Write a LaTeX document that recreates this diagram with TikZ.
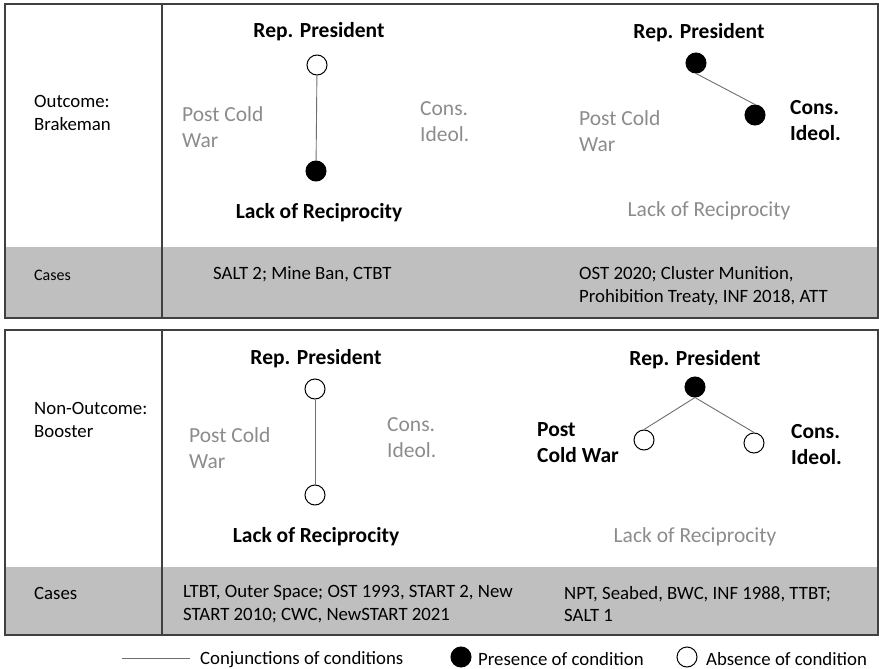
\documentclass[tikz,border=0pt]{standalone}
\usepackage{fontspec}
\setmainfont{Carlito}
\definecolor{bandgray}{HTML}{BFBFBF}
\definecolor{txtgray}{HTML}{8C8C8C}
\definecolor{edge}{HTML}{404040}
\definecolor{linkgray}{HTML}{6E6E6E}
\tikzset{
  lab/.style={inner sep=0pt, yshift=-2pt, font=\fontsize{21.5}{26}\selectfont\bfseries, align=left},
  glab/.style={inner sep=0pt, yshift=-2pt, font=\fontsize{21.5}{26}\selectfont, text=txtgray, align=left},
  body/.style={inner sep=0pt, yshift=-2pt, font=\fontsize{18.8}{22.6}\selectfont, align=left},
  small/.style={inner sep=0pt, yshift=-1pt, font=\fontsize{16}{19}\selectfont, align=left},
  pres/.style={circle, fill=black, draw=black, line width=1pt, minimum size=20pt, inner sep=0pt},
  abs/.style={circle, fill=white, draw=black, line width=1pt, minimum size=20pt, inner sep=0pt},
  link/.style={draw=linkgray, line width=0.9pt},
  frame/.style={draw=edge, line width=1.6pt}
}
\begin{document}
\begin{tikzpicture}[x=1pt,y=-1pt]
\useasboundingbox (0,0) rectangle (879,669);
% ---------- top panel ----------
\fill[bandgray] (5,247) rectangle (878,318);
\draw[frame] (5,4) rectangle (878,318);
\draw[frame] (162,4) -- (162,318);
\node[body, anchor=west] (oc) at (34,111) {Outcome:\\Brakeman};
\node[small, anchor=west] (c1) at (34,274) {Cases};
% left diagram
\node[lab] (rp1) at (319,30) {Rep. President};
\node[abs] (a1) at (317,65) {};
\node[pres] (b1) at (316,171) {};
\draw[link] (a1) -- (b1);
\node[glab, anchor=west] (pc1) at (182,125) {Post Cold\\War};
\node[glab, anchor=west] (ci1) at (420,120) {Cons.\\Ideol.};
\node[lab] (lr1) at (319,211) {Lack of Reciprocity};
\node[body, anchor=west] (cs1) at (213,272) {SALT 2; Mine Ban, CTBT};
% right diagram
\node[lab] (rp2) at (699,31) {Rep. President};
\node[pres] (a2) at (696,63) {};
\node[pres] (b2) at (755,115) {};
\draw[link] (a2.south) -- (b2.north);
\node[lab, anchor=west] (ci2) at (790,119) {Cons.\\Ideol.};
\node[glab, anchor=west] (pc2) at (579,129) {Post Cold\\War};
\node[glab] (lr2) at (709,209) {Lack of Reciprocity};
\node[body, anchor=west] (cs2) at (579,284) {OST 2020; Cluster Munition,\\Prohibition Treaty, INF 2018, ATT};
% ---------- bottom panel ----------
\fill[bandgray] (5,567) rectangle (878,635);
\draw[frame] (5,330) rectangle (878,635);
\draw[frame] (162,330) -- (162,635);
\node[body, anchor=west] (no) at (34,418) {Non-Outcome:\\Booster};
\node[body, anchor=west] (c2) at (34,591) {Cases};
% left diagram
\node[lab] (rp3) at (316,357) {Rep. President};
\node[abs] (a3) at (315,389) {};
\node[abs] (b3) at (315,495) {};
\draw[link] (a3) -- (b3);
\node[glab, anchor=west] (pc3) at (189,446) {Post Cold\\War};
\node[glab, anchor=west] (ci3) at (387,436) {Cons.\\Ideol.};
\node[lab] (lr3) at (316,535) {Lack of Reciprocity};
\node[body, anchor=west] (cs3) at (183,602) {LTBT, Outer Space; OST 1993, START 2, New\\START 2010; CWC, NewSTART 2021};
% right diagram
\node[lab] (rp4) at (695,358) {Rep. President};
\node[pres] (a4) at (695,387) {};
\node[abs] (b4) at (644,440) {};
\node[abs] (c4) at (754,443) {};
\draw[link] (a4.south) -- (b4.north);
\draw[link] (a4.south) -- (c4.north);
\node[lab, anchor=west] (pc4) at (537,441) {Post\\Cold War};
\node[lab, anchor=west] (ci4) at (791,443) {Cons.\\Ideol.};
\node[glab] (lr4) at (695,535) {Lack of Reciprocity};
\node[body, anchor=west] (cs4) at (564,602) {NPT, Seabed, BWC, INF 1988, TTBT;\\SALT 1};
% ---------- legend ----------
\coordinate (l1) at (122,658);
\coordinate (l2) at (190,658);
\draw[link] (l1) -- (l2);
\node[body, anchor=west] (lt1) at (200,658) {Conjunctions of conditions};
\node[pres] (lp) at (461,657) {};
\node[body, anchor=west] (lt2) at (478,657) {Presence of condition};
\node[abs] (la) at (687,657) {};
\node[body, anchor=west] (lt3) at (706,657) {Absence of condition};
\end{tikzpicture}
\end{document}
